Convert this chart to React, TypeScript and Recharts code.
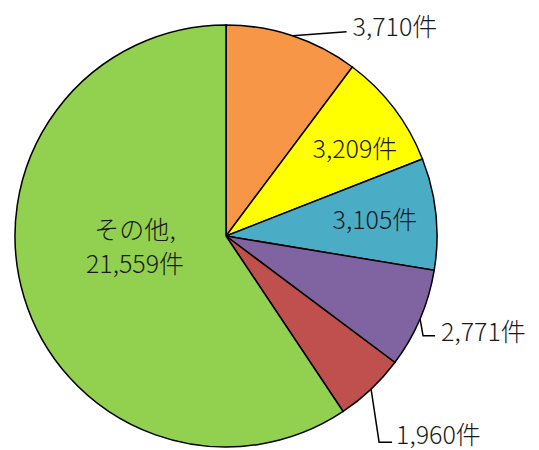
import { PieChart, Pie, Cell } from 'recharts'

const categories = ['a', 'b', 'c', 'd', 'e', 'その他']
const counts = [3710, 3209, 3105, 2771, 1960, 21559]
const labels = ['3,710件', '3,209件', '3,105件', '2,771件', '1,960件', '21,559件']

const colors = ['#F79646', '#FFFF00', '#4BACC6', '#8064A2', '#C0504D', '#92D050']

const data = categories.map((name, i) => ({ name, value: counts[i], label: labels[i] }))

const RADIAN = Math.PI / 180
const FONT = '"Noto Sans CJK JP", "Noto Sans", sans-serif'
const FS = 25
const FW = 300

// where each label sits: leader lines are relative to the slice's arc point
const outside: Record<number, { line: [number, number][]; text: [number, number] }> = {
  0: { line: [[54, -4]], text: [60, -11] },
  3: { line: [[3, 17], [15, 17]], text: [21, 11] },
  4: { line: [[8, 53], [21, 53]], text: [25, 44] },
}
const inside: Record<number, [number, number]> = {
  1: [129, -89],
  2: [149, -18],
}

function renderLabel(props: any) {
  const { cx, cy, midAngle, outerRadius, index } = props
  const d = data[index]
  if (outside[index]) {
    const px = cx + outerRadius * Math.cos(-midAngle * RADIAN)
    const py = cy + outerRadius * Math.sin(-midAngle * RADIAN)
    const cfg = outside[index]
    const pts = [[px, py], ...cfg.line.map(([dx, dy]) => [px + dx, py + dy])]
    return (
      <g key={`lbl-${index}`}>
        <polyline points={pts.map((p) => p.join(',')).join(' ')} fill="none" stroke="#000" strokeWidth={1.5} />
        <text
          x={px + cfg.text[0]}
          y={py + cfg.text[1]}
          textAnchor="start"
          dominantBaseline="central"
          fontSize={FS}
          fontWeight={FW}
          fontFamily={FONT}
          fill="#1a1a1a"
        >
          {d.label}
        </text>
      </g>
    )
  }
  if (inside[index]) {
    const [dx, dy] = inside[index]
    return (
      <text
        key={`lbl-${index}`}
        x={cx + dx}
        y={cy + dy}
        textAnchor="middle"
        dominantBaseline="central"
        fontSize={FS}
        fontWeight={FW}
        fontFamily={FONT}
        fill="#1a1a1a"
      >
        {d.label}
      </text>
    )
  }
  // the big "other" slice gets two lines
  return (
    <text
      key={`lbl-${index}`}
      x={cx - 91}
      y={cy - 8}
      textAnchor="middle"
      dominantBaseline="central"
      fontSize={FS}
      fontWeight={FW}
      fontFamily={FONT}
      fill="#1a1a1a"
    >
      <tspan x={cx - 91} dy={0}>{d.name},</tspan>
      <tspan x={cx - 91} dy={34}>{d.label}</tspan>
    </text>
  )
}

export default function App() {
  return (
    <div style={{ width: 531, height: 442 }}>
      <PieChart width={531} height={442} margin={{ top: 0, right: 0, bottom: 0, left: 0 }}>
        <Pie
          data={data}
          dataKey="value"
          cx={218}
          cy={228}
          outerRadius={211}
          startAngle={90}
          endAngle={-270}
          stroke="#000"
          strokeWidth={1.5}
          label={renderLabel}
          labelLine={false}
          isAnimationActive={false}
        >
          {data.map((entry, i) => (
            <Cell key={`cell-${i}`} fill={colors[i]} />
          ))}
        </Pie>
      </PieChart>
    </div>
  )
}
